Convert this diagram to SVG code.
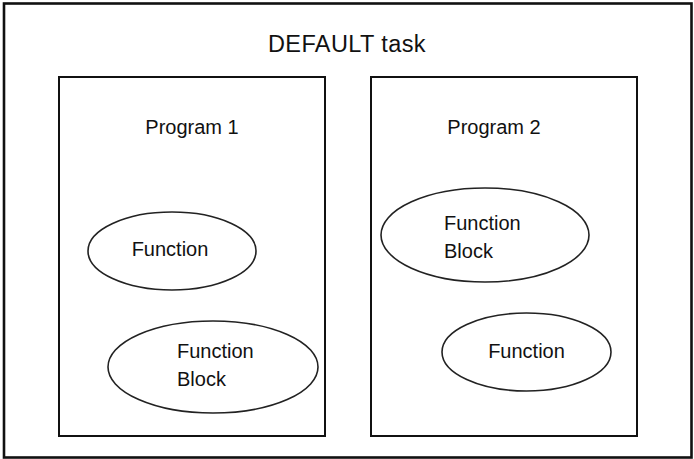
<svg xmlns="http://www.w3.org/2000/svg" width="694" height="459" viewBox="0 0 694 459">
<style>
text{font-family:"Liberation Sans",Arial,sans-serif;fill:#111}
.box{fill:none;stroke:#111;stroke-width:2}
.ell{fill:#fff;stroke:#222;stroke-width:1.6}
.t{font-size:20px}
</style>
<rect x="0" y="0" width="694" height="459" fill="#fff"/>
<g id="default-task">
<rect x="4" y="3.5" width="687.5" height="454" fill="none" stroke="#111" stroke-width="2.6"/>
<text x="347" y="52" font-size="23.5" letter-spacing="0.4" text-anchor="middle">DEFAULT task</text>
</g>
<g id="program1">
<rect class="box" x="59" y="77" width="266" height="359"/>
<text class="t" x="192" y="134" text-anchor="middle">Program 1</text>
</g>
<g id="program2">
<rect class="box" x="371" y="77" width="266" height="359"/>
<text class="t" x="494" y="134" text-anchor="middle">Program 2</text>
</g>
<g id="p1-function">
<ellipse class="ell" cx="172" cy="251" rx="84" ry="39"/>
<text class="t" x="170" y="256" text-anchor="middle">Function</text>
</g>
<g id="p1-function-block">
<ellipse class="ell" cx="213" cy="367" rx="105" ry="46"/>
<text class="t" x="177" y="358">Function</text>
<text class="t" x="177" y="386">Block</text>
</g>
<g id="p2-function-block">
<ellipse class="ell" cx="485" cy="235" rx="104" ry="47"/>
<text class="t" x="444" y="230">Function</text>
<text class="t" x="444" y="258">Block</text>
</g>
<g id="p2-function">
<ellipse class="ell" cx="526.5" cy="352" rx="84.5" ry="39"/>
<text class="t" x="526.5" y="358" text-anchor="middle">Function</text>
</g>
<g id="connectors"></g>
</svg>
